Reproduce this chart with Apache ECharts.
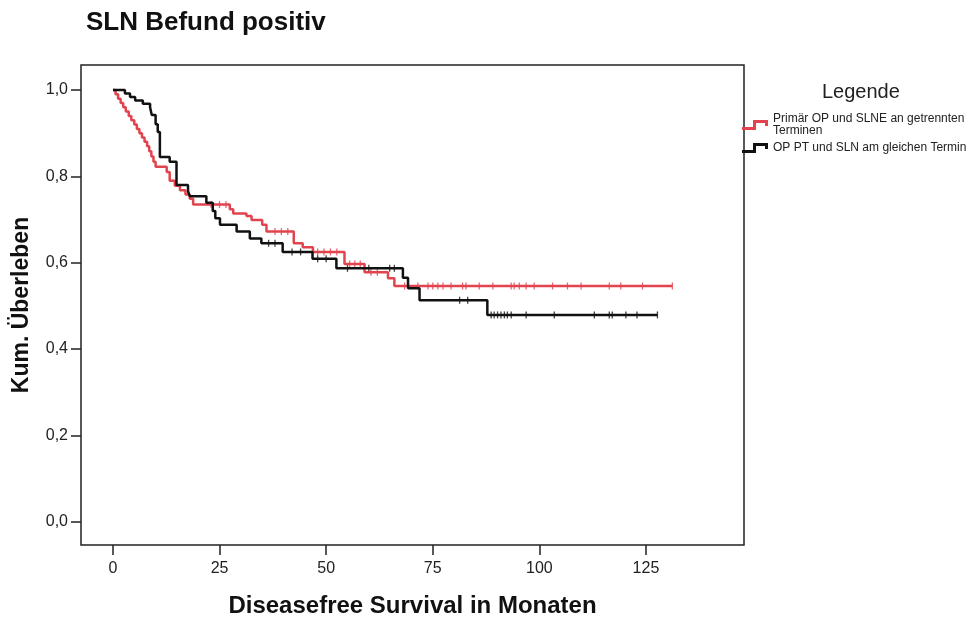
<!DOCTYPE html>
<html>
<head>
<meta charset="utf-8">
<script src="https://cdn.jsdelivr.net/npm/echarts@6/dist/echarts.min.js"></script>
<style>
  html, body { margin: 0; padding: 0; background: #ffffff; }
  #chart { width: 977px; height: 619px; }
</style>
</head>
<body>
<div id="chart"></div>
<script>
// ---- texts ----
const chartTitle = 'SLN Befund positiv';
const xAxisTitle = 'Diseasefree Survival in Monaten';
const yAxisTitle = 'Kum. Überleben';
const legendTitle = 'Legende';
const seriesNames = [
  'Primär OP und SLNE an getrennten Terminen',
  'OP PT und SLN am gleichen Termin'
];
const legendLabels = [
  'Primär OP und SLNE an getrennten\nTerminen',
  'OP PT und SLN am gleichen Termin'
];

// ---- tick labels ----
const xTicks = [0, 25, 50, 75, 100, 125];
const yTicks = [0, 0.2, 0.4, 0.6, 0.8, 1.0];

// ---- Kaplan-Meier steps: [month, cumulative survival after that month] ----
const separateSteps = [
  [0, 1.0], [0.6, 0.99], [1.2, 0.98], [1.8, 0.97], [2.4, 0.96], [3.0, 0.95],
  [3.7, 0.94], [4.3, 0.93], [5.0, 0.92], [5.6, 0.91], [6.2, 0.90], [6.8, 0.89],
  [7.4, 0.88], [8.0, 0.87], [8.5, 0.858], [9.0, 0.846], [9.5, 0.834], [10.0, 0.822],
  [12.6, 0.81], [13.3, 0.79], [14.5, 0.778], [15.7, 0.768], [17.0, 0.758],
  [18.0, 0.748], [18.8, 0.735], [27.4, 0.724], [28.2, 0.714], [31.3, 0.708],
  [32.5, 0.699], [35.0, 0.688], [36.0, 0.672], [42.4, 0.645], [44.5, 0.636],
  [46.9, 0.625], [54.3, 0.597], [59.0, 0.578], [64.5, 0.564], [66.0, 0.546],
  [131.2, 0.546]
];
const sameDaySteps = [
  [0, 1.0], [2.8, 0.992], [4.0, 0.984], [5.2, 0.976], [7.0, 0.968], [8.7, 0.96],
  [9.1, 0.942], [10.0, 0.921], [10.5, 0.903], [11.0, 0.845], [13.3, 0.834],
  [14.9, 0.78], [17.6, 0.766], [18.0, 0.754], [21.9, 0.739], [23.4, 0.72],
  [24.0, 0.703], [25.1, 0.688], [29.0, 0.672], [32.1, 0.656], [34.8, 0.645],
  [39.8, 0.625], [46.8, 0.609], [52.4, 0.587], [68.0, 0.565], [69.2, 0.541],
  [71.9, 0.513], [87.8, 0.479], [127.7, 0.479]
];

// ---- censored observations (months) ----
const separateCensored = [
  23, 25, 26.5, 38, 39.5, 41, 48, 49.5, 51, 52.5, 55.5, 56.7, 58, 60.5, 62,
  68.4, 71.5, 73.9, 75.0, 76.2, 77.4, 79.3, 82.0, 82.8, 85.9, 89.1, 93.4, 94.1,
  95.3, 96.9, 98.8, 103.1, 106.6, 109.8, 116.4, 119.1, 124.2, 131.2
];
const sameDayCensored = [
  36.5, 38, 42, 44, 48, 50, 55, 60, 64.9, 66, 81.3, 83.2,
  88.7, 89.4, 90.2, 91.0, 91.8, 92.5, 93.4, 96.9, 103.5, 112.9, 116.4, 117.1,
  120.3, 122.9, 127.7
];

const colors = ['#e2444f', '#111111'];

// survival value of a step curve at a given month
function survivalAt(steps, t) {
  let s = steps[0][1];
  for (const [m, v] of steps) { if (m <= t) s = v; else break; }
  return s;
}

const font = 'Liberation Sans, Arial, sans-serif';
const stepIcon = 'path://M0,8 L11,8 L11,1 L26,1 L26,7 L23,7 L23,4 L14,4 L14,11 L0,11 Z';

const chart = echarts.init(document.getElementById('chart'), null, { renderer: 'canvas' });

chart.setOption({
  backgroundColor: '#ffffff',
  animation: false,
  title: [
    {
      text: chartTitle, left: 81, top: 5,
      textStyle: { fontFamily: font, fontSize: 26, fontWeight: 'bold', color: '#111' }
    },
    {
      text: legendTitle, left: 817, top: 77,
      textStyle: { fontFamily: font, fontSize: 20, fontWeight: 'normal', color: '#222' }
    }
  ],
  legend: {
    data: seriesNames.map(n => ({ name: n, icon: stepIcon })),
    orient: 'vertical',
    left: 737, top: 108,
    itemWidth: 26, itemHeight: 10, itemGap: 5,
    formatter: name => legendLabels[seriesNames.indexOf(name)],
    textStyle: { fontFamily: font, fontSize: 12, lineHeight: 12, color: '#222' }
  },
  grid: {
    left: 81, right: 233, top: 65, bottom: 74,
    show: true, borderColor: '#222', borderWidth: 1.5,
    containLabel: false, outerBoundsMode: 'none'
  },
  xAxis: {
    type: 'value', min: -7.5, max: 148,
    axisLine: { show: false, onZero: false },
    splitLine: { show: false },
    axisTick: { show: true, customValues: xTicks, length: 10, lineStyle: { color: '#222', width: 1.5 } },
    axisLabel: { customValues: xTicks, margin: 16, fontFamily: font, fontSize: 16, color: '#222' },
    name: xAxisTitle, nameLocation: 'middle', nameGap: 49,
    nameTextStyle: { fontFamily: font, fontSize: 24, fontWeight: 'bold', color: '#111' }
  },
  yAxis: {
    type: 'value', min: -0.054, max: 1.058,
    axisLine: { show: false, onZero: false },
    splitLine: { show: false },
    axisTick: { show: true, customValues: yTicks, length: 10, lineStyle: { color: '#222', width: 1.5 } },
    axisLabel: {
      customValues: yTicks, margin: 13, fontFamily: font, fontSize: 16, color: '#222',
      formatter: v => v.toFixed(1).replace('.', ',')
    },
    name: yAxisTitle, nameLocation: 'middle', nameGap: 48, nameRotate: 90,
    nameTextStyle: { fontFamily: font, fontSize: 23, fontWeight: 'bold', color: '#111' }
  },
  series: [
    {
      name: seriesNames[0], type: 'line', step: 'end', data: separateSteps,
      showSymbol: false, color: colors[0],
      lineStyle: { color: colors[0], width: 2.5 }
    },
    {
      name: seriesNames[1], type: 'line', step: 'end', data: sameDaySteps,
      showSymbol: false, color: colors[1],
      lineStyle: { color: colors[1], width: 2.5 }
    },
    {
      type: 'scatter', symbol: 'rect', symbolSize: [1.3, 7],
      itemStyle: { color: colors[0] },
      data: separateCensored.map(t => [t, survivalAt(separateSteps, t)])
    },
    {
      type: 'scatter', symbol: 'rect', symbolSize: [1.3, 7],
      itemStyle: { color: colors[1] },
      data: sameDayCensored.map(t => [t, survivalAt(sameDaySteps, t)])
    }
  ]
});
</script>
</body>
</html>
